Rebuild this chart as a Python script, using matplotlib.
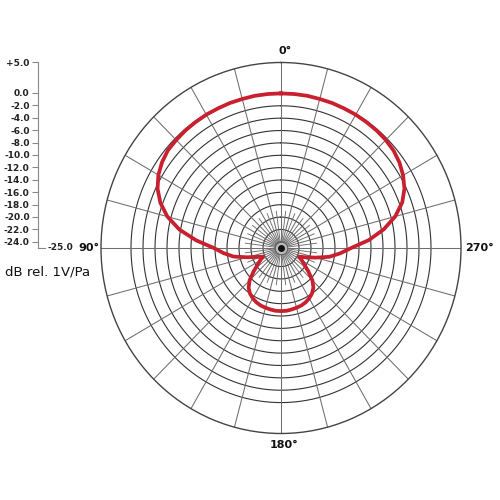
import numpy as np
import matplotlib
matplotlib.use("Agg")
import matplotlib.pyplot as plt

# ---- data (dB rel. 1V/Pa) ----
angles_deg = [0, 5, 10, 15, 20, 25, 30, 35, 40, 45, 50, 55, 60, 65, 70, 75, 80, 85,
              90, 95, 100, 105, 110, 115, 120, 125, 130, 135, 140, 145, 150, 155, 160, 165,
              170, 175, 180, 185, 190, 195, 200, 205, 210, 215, 220, 225, 230, 235, 240, 245,
              250, 255, 260, 265, 270, 275, 280, 285, 290, 295, 300, 305, 310, 315, 320, 325,
              330, 335, 340, 345, 350, 355]
response_db = [0.0, 0.0, 0.0, -0.05, -0.05, -0.1, -0.1, -0.15, -0.2, -0.3, -0.4, -0.8,
               -1.4, -2.3, -3.6, -5.4, -7.8, -10.8,
               -13.8, -15.4, -17.0, -19.2, -20.8, -21.7, -21.0, -20.2, -19.0, -17.6, -16.6,
               -16.0, -15.6, -15.3, -15.1, -15.0, -14.9, -14.8,
               -14.8, -14.8, -14.9, -15.0, -15.1, -15.3, -15.6, -16.0, -16.6, -17.6, -19.0,
               -20.2, -21.0, -21.7, -20.6, -19.0, -16.8, -15.1,
               -13.3, -10.3, -7.6, -5.3, -3.5, -2.3, -1.5, -0.9, -0.5, -0.3, -0.2, -0.15,
               -0.1, -0.1, -0.05, -0.05, 0.0, 0.0]

scale_ticks = [5.0, 0.0, -2.0, -4.0, -6.0, -8.0, -10.0, -12.0, -14.0, -16.0, -18.0,
               -20.0, -22.0, -24.0]
scale_labels = ["+5.0", "0.0", "-2.0", "-4.0", "-6.0", "-8.0", "-10.0", "-12.0", "-14.0",
                "-16.0", "-18.0", "-20.0", "-22.0", "-24.0"]
ring_levels = [0, -2, -4, -6, -8, -10, -12, -14, -16, -18, -20, -22, -24]
angle_labels = ["0°", "90°", "180°", "270°"]
r_min, r_max = -25.0, 5.0

W = H = 500
fig = plt.figure(figsize=(5, 5), dpi=100)
fig.patch.set_facecolor("white")

cx, cy = 281, 248
rx, ry = 180, 185.5
ax = fig.add_axes([(cx - rx) / W, (H - cy - ry) / H, 2 * rx / W, 2 * ry / H],
                  projection="polar")
ax.set_aspect("auto")
ax.set_theta_zero_location("N")
ax.set_theta_direction(1)
ax.set_ylim(r_min, r_max)
ax.grid(False)
ax.set_xticks([])
ax.set_yticks([])
ax.spines["polar"].set_color("#444444")
ax.spines["polar"].set_linewidth(1.0)

th = np.linspace(0, 2 * np.pi, 721)
for lev in ring_levels:
    ax.plot(th, np.full_like(th, lev), color="#333333", lw=0.8, zorder=1)

for a in range(0, 360, 15):
    t = np.deg2rad(a)
    ax.plot([t, t], [r_min, r_max], color="#6e6e6e", lw=0.75, zorder=1)
for a in np.arange(7.5, 360, 15):
    t = np.deg2rad(a)
    ax.plot([t, t], [r_min, -19], color="#6e6e6e", lw=0.65, zorder=1)

ax.plot([0], [r_min], "o", ms=9, color="#bbbbbb", mec="#555555", mew=0.6, zorder=3)
ax.plot([0], [r_min], "o", ms=4, color="#111111", zorder=4)

t_data = np.deg2rad(np.array(angles_deg + [angles_deg[0]]))
r_data = np.array(response_db + [response_db[0]])
ax.plot(t_data, r_data, color="#c8202e", lw=2.7, zorder=5, solid_joinstyle="round")

# angle labels
fs_ang = 8
kw = dict(ha="center", va="center", fontsize=fs_ang, color="#111111", fontweight="bold")
fig.text(285 / W, 1 - 51 / H, angle_labels[0], **kw)
fig.text(89 / W, 1 - 248 / H, angle_labels[1], **kw)
fig.text(284 / W, 1 - 445 / H, angle_labels[2], **kw)
fig.text(479 / W, 1 - 248 / H, angle_labels[3], **kw)

# left dB scale
sx = 38
ax2 = fig.add_axes([sx / W, (H - 248) / H, 12 / W, (248 - 62) / H])
ax2.set_ylim(r_min, r_max)
ax2.set_xlim(0, 1)
ax2.patch.set_alpha(0)
for s in ["top", "right", "bottom"]:
    ax2.spines[s].set_visible(False)
ax2.spines["left"].set_color("#888888")
ax2.spines["left"].set_linewidth(0.8)
ax2.set_xticks([])
ax2.set_yticks(scale_ticks)
ax2.set_yticklabels(scale_labels, fontweight="bold")
ax2.tick_params(axis="y", direction="out", length=4, width=0.8, color="#888888",
                labelsize=6.5, labelcolor="#222222", pad=2)
ax2.plot([0, 0.6], [r_min, r_min], color="#888888", lw=0.8, clip_on=False)
ax2.text(0.75, r_min, "-25.0", ha="left", va="center", fontsize=6.5,
         fontweight="bold", color="#222222")

fig.text(5 / W, 1 - 272 / H, "dB rel. 1V/Pa", ha="left", va="center", fontsize=9.5, color="#111111")

fig.savefig("out.png", dpi=100, facecolor="white")
